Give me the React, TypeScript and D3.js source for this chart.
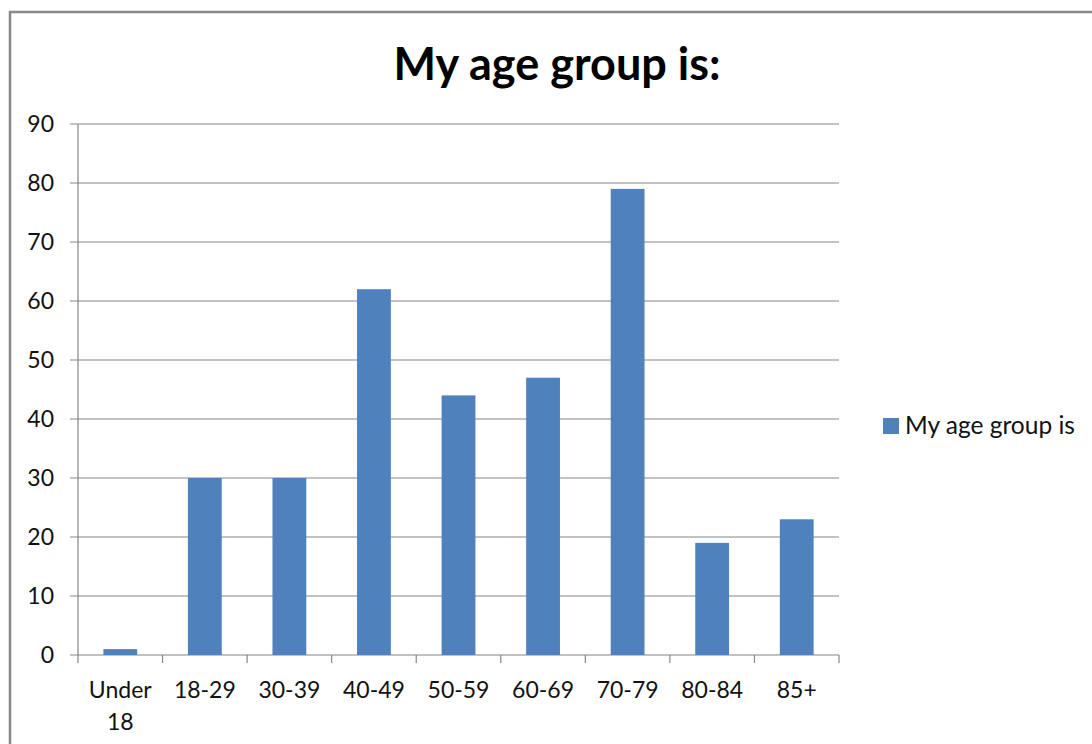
import React from 'react';
import * as d3 from 'd3';

const categories = ['Under 18', '18-29', '30-39', '40-49', '50-59', '60-69', '70-79', '80-84', '85+'];
const counts = [1, 30, 30, 62, 44, 47, 79, 19, 23];
const yTicks = [0, 10, 20, 30, 40, 50, 60, 70, 80, 90];
const seriesName = 'My age group is';
const title = 'My age group is:';

const W = 1092;
const H = 744;
const plot = {left: 78, right: 839, top: 124, bottom: 655};
const font = 'Lato, "Open Sans", sans-serif';
const grid = '#868686';
const barColor = '#4F81BD';

export default function App() {
  const x = d3
    .scaleBand<string>()
    .domain(categories)
    .range([plot.left, plot.right])
    .paddingInner(0.6)
    .paddingOuter(0.3);
  const step = (plot.right - plot.left) / categories.length;
  const y = d3.scaleLinear().domain([0, 90]).range([plot.bottom, plot.top]);

  return (
    <svg
      width={W}
      height={H}
      style={{position: 'absolute', top: 0, left: 0, background: '#fff'}}
      fontFamily={font}>
      <rect x={10} y={12} width={1300} height={900} fill="#fff" stroke="#888" strokeWidth={2.5} />
      <text x={557} y={80} textAnchor="middle" fontSize={45} fontWeight="bold" fill="#000">
        {title}
      </text>

      {/* gridlines + y ticks */}
      {yTicks.map(t => (
        <g key={t}>
          <line x1={plot.left - 8} x2={plot.right} y1={y(t)} y2={y(t)} stroke={grid} strokeWidth={1.2} />
          <text x={54} y={y(t) + 8} textAnchor="end" fontSize={23} fill="#111">
            {t}
          </text>
        </g>
      ))}
      <line x1={plot.left} x2={plot.left} y1={plot.top} y2={plot.bottom} stroke={grid} strokeWidth={1.2} />

      {/* x ticks */}
      {d3.range(categories.length + 1).map(i => (
        <line
          key={i}
          x1={plot.left + i * step}
          x2={plot.left + i * step}
          y1={plot.bottom}
          y2={plot.bottom + 8}
          stroke={grid}
          strokeWidth={1.2}
        />
      ))}

      {categories.map((c, i) => (
        <rect
          key={c}
          x={x(c)}
          y={y(counts[i])}
          width={x.bandwidth()}
          height={y(0) - y(counts[i])}
          fill={barColor}
        />
      ))}

      {categories.map(c => {
        const cx = (x(c) ?? 0) + x.bandwidth() / 2;
        const lines = c.includes(' ') ? c.split(' ') : [c];
        return (
          <text key={c} x={cx} y={698} textAnchor="middle" fontSize={23} fill="#111">
            {lines.map((l, j) => (
              <tspan key={j} x={cx} dy={j === 0 ? 0 : 32}>
                {l}
              </tspan>
            ))}
          </text>
        );
      })}

      {/* legend */}
      <rect x={883} y={418} width={16} height={16} fill={barColor} />
      <text x={905} y={434} fontSize={24.5} fill="#111">
        {seriesName}
      </text>
    </svg>
  );
}
